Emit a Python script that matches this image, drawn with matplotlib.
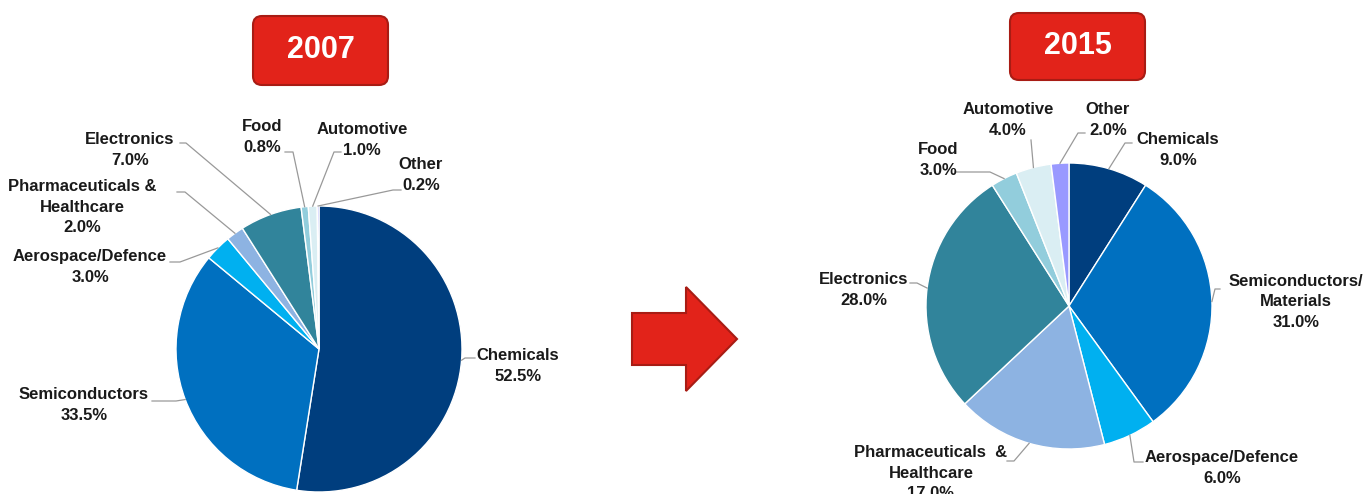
import numpy as np
import matplotlib
matplotlib.use("Agg")
import matplotlib.pyplot as plt
from matplotlib.patches import FancyBboxPatch, Polygon

plt.rcParams['font.family'] = ['Liberation Sans', 'DejaVu Sans']

W, H = 1363, 494

sectors = ["Chemicals", "Semiconductors", "Aerospace/Defence",
           "Pharmaceuticals &\nHealthcare", "Electronics", "Food",
           "Automotive", "Other"]
sectors_2015 = ["Chemicals", "Semiconductors/\nMaterials", "Aerospace/Defence",
                "Pharmaceuticals  &\nHealthcare", "Electronics", "Food",
                "Automotive", "Other"]
share_2007 = [52.5, 33.5, 3.0, 2.0, 7.0, 0.8, 1.0, 0.2]
share_2015 = [9.0, 31.0, 6.0, 17.0, 28.0, 3.0, 4.0, 2.0]
colors = ["#003E7E", "#0070C0", "#00B0F0", "#8DB3E2",
          "#31849B", "#92CDDC", "#DAEEF3", "#9999FF"]

# label centre and leader path (pixels from top-left), per sector
layout_2007 = [
    ((518, 366), [(475, 358), (465, 358)]),
    ((84, 405), [(152, 401), (176, 401)]),
    ((90, 267), [(170, 262), (180, 262)]),
    ((82, 207), [(177, 192), (185, 192)]),
    ((130, 150), [(180, 143), (186, 143)]),
    ((262, 137), [(285, 152), (293, 152)]),
    ((362, 140), [(341, 152), (334, 152)]),
    ((421, 175), [(401, 190), (393, 190)]),
]
layout_2015 = [
    ((1178, 150), [(1132, 143), (1125, 143)]),
    ((1296, 302), [(1220, 289), (1215, 289)]),
    ((1222, 468), [(1143, 462), (1134, 462)]),
    ((931, 473), [(1007, 461), (1014, 461)]),
    ((864, 290), [(910, 283), (917, 283)]),
    ((938, 160), [(955, 172), (990, 172)]),
    ((1008, 120), [(1031, 140)]),
    ((1108, 120), [(1085, 133), (1078, 133)]),
]


def P(x, y):
    return x, H - y


fig = plt.figure(figsize=(W / 100, H / 100), dpi=100)
ax = fig.add_axes([0, 0, 1, 1])


def draw_pie(values, names, centre, radius, layout):
    c = P(*centre)
    wedges, _ = ax.pie(values, colors=colors, startangle=90, counterclock=False,
                       center=c, radius=radius,
                       wedgeprops=dict(edgecolor="white", linewidth=1))
    for w, name, val, (tpos, path) in zip(wedges, names, values, layout):
        mid = np.deg2rad((w.theta1 + w.theta2) / 2)
        anchor = (c[0] + radius * np.cos(mid), c[1] + radius * np.sin(mid))
        pts = [P(*p) for p in path] + [anchor]
        xs, ys = zip(*pts)
        ax.plot(xs, ys, color="#999999", lw=0.9, zorder=1)
        ax.text(*P(*tpos), f"{name}\n{val:.1f}%", ha="center", va="center",
                multialignment="center", fontsize=12, fontweight="bold",
                linespacing=1.42, color="#1A1A1A")


def year_box(x0, y0, x1, y1, label):
    box = FancyBboxPatch(P(x0, y1), x1 - x0, y1 - y0,
                         boxstyle="round,pad=0,rounding_size=9",
                         facecolor="#E2231A", edgecolor="#A81C14", lw=1.5)
    ax.add_patch(box)
    ax.text((x0 + x1) / 2, H - (y0 + y1) / 2, label, ha="center", va="center",
            fontsize=22, fontweight="bold", color="white")


draw_pie(share_2007, sectors, (319, 349), 143, layout_2007)
draw_pie(share_2015, sectors_2015, (1069, 306), 143, layout_2015)

year_box(253, 16, 388, 85, "2007")
year_box(1010, 13, 1145, 80, "2015")

arrow = [(632, 313), (686, 313), (686, 287), (737, 339),
         (686, 391), (686, 365), (632, 365)]
ax.add_patch(Polygon([P(*p) for p in arrow], closed=True,
                     facecolor="#E2231A", edgecolor="#A81C14", lw=1.5))

ax.set_xlim(0, W)
ax.set_ylim(0, H)
ax.set_aspect("auto")
ax.axis("off")

fig.savefig("out.png", dpi=100, facecolor="white")
